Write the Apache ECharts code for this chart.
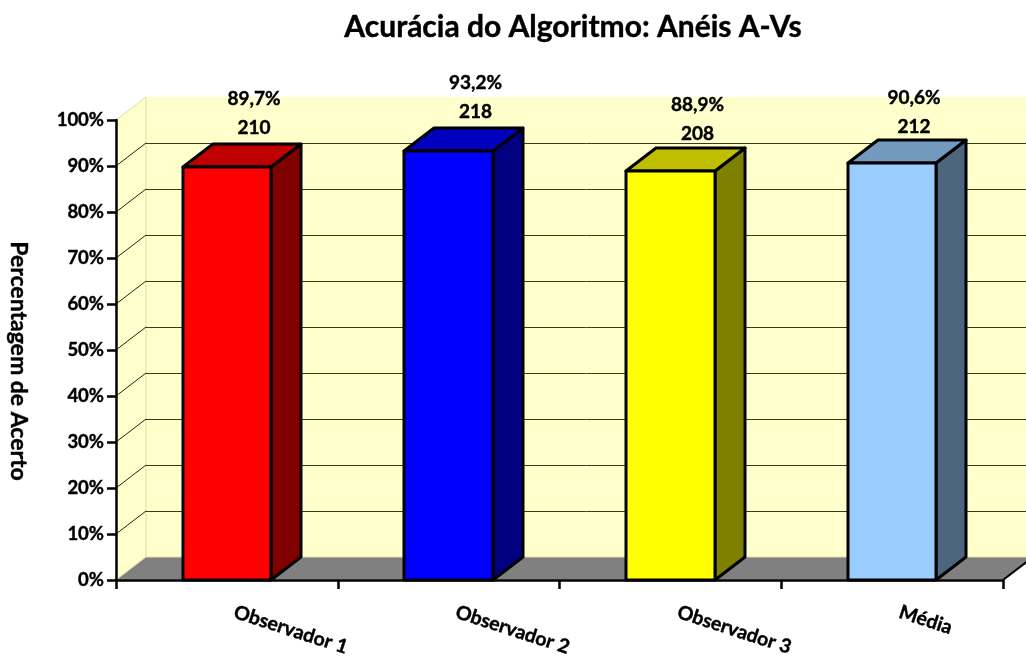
<!DOCTYPE html>
<html>
<head>
<meta charset="utf-8">
<style>
  html, body { margin: 0; padding: 0; background: #fff; }
  #main { width: 1026px; height: 657px; }
</style>
<script src="https://cdn.jsdelivr.net/npm/echarts@6/dist/echarts.min.js"></script>
</head>
<body>
<div id="main"></div>
<script>
// dados
const categories = ['Observador 1', 'Observador 2', 'Observador 3', 'Média']
const percentages = [89.7, 93.2, 88.9, 90.6]
const counts = [210, 218, 208, 212]
const gridTicks = [10, 20, 30, 40, 50, 60, 70, 80, 90]

// cores de cada barra: frente, topo, lateral
const frontColors = ['#FF0000', '#0000FF', '#FFFF00', '#99CCFF']
const topColors = ['#BF0000', '#0000BF', '#BFBF00', '#7399BF']
const sideColors = ['#800000', '#000080', '#808000', '#4D6680']
// ajuste fino dos rótulos em relação à barra
const labelNudge = [[12, 0], [12, 0], [12, 2], [7, 3]]

const FONT = 'Lato, "Noto Sans", sans-serif'
const DX = 30
const DY = 23
// engrossa um pouco o negrito do Lato
const heavy = {textBorderColor: '#000', textBorderWidth: 0.4}

// paredes e chão do efeito 3D
const renderWalls = (params) => {
    const g = params.coordSys
    const left = g.x, right = g.x + g.width, top = g.y, bottom = g.y + g.height
    const edge = {stroke: '#DEDEA8', lineWidth: 1}
    return {
        type: 'group',
        children: [
            {type: 'polygon', shape: {points: [[left + DX, top - DY], [right + DX, top - DY], [right + DX, bottom - DY], [left + DX, bottom - DY]]}, style: {fill: '#FFFFCC'}},
            {type: 'polygon', shape: {points: [[left, top], [left + DX, top - DY], [left + DX, bottom - DY], [left, bottom]]}, style: {fill: '#FFFFCC', ...edge}},
            {type: 'polygon', shape: {points: [[left, bottom], [left + DX, bottom - DY], [right + DX, bottom - DY], [right, bottom]]}, style: {fill: '#808080', ...edge}},
            {type: 'line', shape: {x1: right, y1: bottom, x2: right + DX, y2: bottom - DY}, style: {stroke: '#000', lineWidth: 2}}
        ]
    }
}

const renderGridLine = (params, api) => {
    const g = params.coordSys
    const y = Math.round(api.coord([0, api.value(0)])[1])
    const back = y - DY
    return {
        type: 'group',
        children: [
            {type: 'line', shape: {x1: g.x, y1: y, x2: g.x + DX, y2: back}, style: {stroke: '#222', lineWidth: 1}},
            {type: 'line', shape: {x1: g.x + DX, y1: back + 0.5, x2: g.x + g.width + DX, y2: back + 0.5}, style: {stroke: '#3a3a20', lineWidth: 1}}
        ]
    }
}

const renderBar = (params, api) => {
    const i = api.value(0)
    const value = api.value(1)
    const center = api.coord([i, value])
    const base = api.coord([i, 0])
    const width = api.size([1, 0])[0] * 0.4
    const x0 = Math.round(center[0] - width / 2)
    const x1 = Math.round(center[0] + width / 2)
    const y0 = Math.round(center[1])
    const y1 = base[1]
    const line = {stroke: '#000', lineWidth: 3, lineJoin: 'round'}
    const labelX = (x0 + x1 + DX) / 2 + labelNudge[i][0]
    const text = (str, y) => ({
        type: 'text',
        style: {text: str, x: labelX, y: y + labelNudge[i][1], align: 'center', verticalAlign: 'middle', fill: '#000', stroke: '#000', lineWidth: 0.4, font: 'bold 19px ' + FONT}
    })
    return {
        type: 'group',
        children: [
            {type: 'polygon', shape: {points: [[x1, y0], [x1 + DX, y0 - DY], [x1 + DX, y1 - DY], [x1, y1]]}, style: {fill: sideColors[i], ...line}},
            {type: 'polygon', shape: {points: [[x0, y0], [x0 + DX, y0 - DY], [x1 + DX, y0 - DY], [x1, y0]]}, style: {fill: topColors[i], ...line}},
            {type: 'polygon', shape: {points: [[x0, y0], [x1, y0], [x1, y1], [x0, y1]]}, style: {fill: frontColors[i], ...line}},
            text(String(counts[i]), y0 - 39),
            text(value.toFixed(1).replace('.', ',') + '%', y0 - 68)
        ]
    }
}

const myChart = echarts.init(document.getElementById('main'), null, {renderer: 'canvas'})
myChart.setOption({
    animation: false,
    backgroundColor: '#fff',
    title: {
        text: 'Acurácia do Algoritmo: Anéis A-Vs',
        left: 568,
        top: 7,
        textAlign: 'center',
        textStyle: {fontFamily: FONT, fontWeight: 'bold', fontSize: 30, color: '#000', ...heavy}
    },
    grid: {left: 116, right: 23, top: 120, bottom: 77, outerBoundsMode: 'none'},
    xAxis: {
        type: 'category',
        data: categories,
        z: 5,
        axisLine: {lineStyle: {color: '#000', width: 2.5}},
        axisTick: {show: true, length: 9, lineStyle: {color: '#000', width: 2.5}},
        axisLabel: {rotate: -18, margin: 29, padding: [0, 0, 0, 8], color: '#000', fontFamily: FONT, fontWeight: 'bold', fontSize: 19.5, ...heavy}
    },
    yAxis: {
        type: 'value',
        min: 0,
        max: 100,
        interval: 10,
        z: 5,
        name: 'Percentagem de Acerto',
        nameLocation: 'middle',
        nameRotate: -90,
        nameGap: 86,
        nameTextStyle: {color: '#000', fontFamily: FONT, fontWeight: 'bold', fontSize: 23, padding: [0, 0, 0, 22], ...heavy},
        axisLine: {show: true, lineStyle: {color: '#000', width: 2.5}},
        axisTick: {show: true, length: 9, lineStyle: {color: '#000', width: 2.5}},
        splitLine: {show: false},
        axisLabel: {formatter: '{value}%', margin: 12, color: '#000', fontFamily: FONT, fontWeight: 'bold', fontSize: 18.5, ...heavy}
    },
    series: [
        {type: 'custom', z: 1, silent: true, data: [0], renderItem: renderWalls},
        {type: 'custom', z: 1, silent: true, coordinateSystem: 'cartesian2d', data: gridTicks.map((t) => [t]), encode: {y: 0}, renderItem: renderGridLine},
        {type: 'custom', z: 2, data: percentages.map((v, i) => [i, v]), encode: {x: 0, y: 1}, renderItem: renderBar}
    ]
})
</script>
</body>
</html>
